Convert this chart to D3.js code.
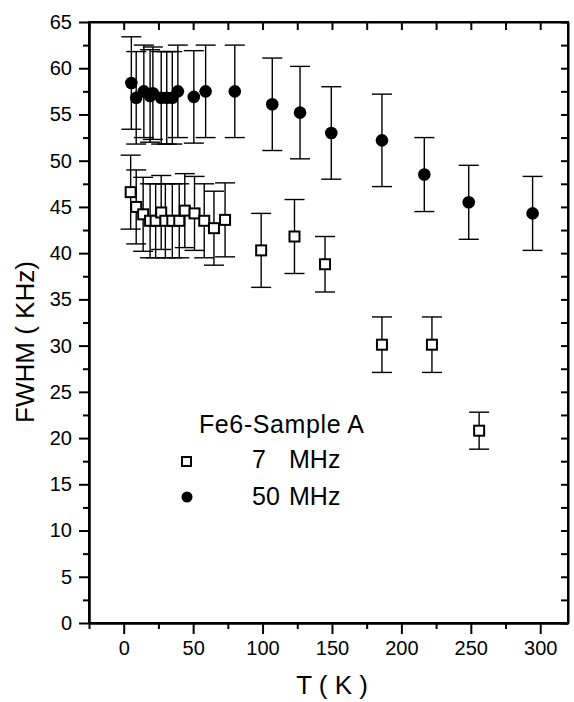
<!DOCTYPE html>
<html>
<head>
<meta charset="utf-8">
<script src="https://cdn.jsdelivr.net/npm/d3@7"></script>
<style>
  body { margin: 0; background: #fff; }
  svg { font-family: "Liberation Sans", Arial, Helvetica, sans-serif; }
  .axis path, .axis line { stroke: #000; stroke-width: 2; }
  .axis text { font-size: 20px; fill: #000; }
</style>
</head>
<body>
<div id="chart"></div>
<script>
// 7 MHz series (open squares)
var tSquare    = [5, 9, 14, 19, 23, 27, 30, 35, 40, 44, 51, 58, 65, 73, 99, 123, 145, 186, 222, 256];
var fwhmSquare = [46.6, 45.0, 44.2, 43.5, 43.5, 44.4, 43.5, 43.5, 43.5, 44.6, 44.3, 43.5, 42.7, 43.6, 40.3, 41.8, 38.8, 30.1, 30.1, 20.8];
var errSquare  = [4, 4, 4, 4, 4, 4, 4, 4, 4, 4, 4, 4, 4, 4, 4, 4, 3, 3, 3, 2];

// 50 MHz series (filled circles)
var tCircle    = [5.5, 9, 14.5, 19, 21, 27, 31, 35, 39, 50.5, 59, 80, 107, 127, 149.5, 186, 216.5, 248.5, 294.5];
var fwhmCircle = [58.4, 56.8, 57.5, 57.0, 57.3, 56.8, 56.8, 56.8, 57.5, 56.9, 57.5, 57.5, 56.1, 55.2, 53.0, 52.2, 48.5, 45.5, 44.3];
var errCircle  = [5, 5, 5, 5, 5, 5, 5, 5, 5, 5, 5, 5, 5, 5, 5, 5, 4, 4, 4];

// ticks
var xMajor = [0, 50, 100, 150, 200, 250, 300];
var xMinor = [-25, 25, 75, 125, 175, 225, 275];
var yMajor = [0, 5, 10, 15, 20, 25, 30, 35, 40, 45, 50, 55, 60, 65];
var yMinor = [2.5, 7.5, 12.5, 17.5, 22.5, 27.5, 32.5, 37.5, 42.5, 47.5, 52.5, 57.5, 62.5];

var legendTitle = "Fe6-Sample A";
var legendNums = ["7", "50"];

var width = 574, height = 702;
var margin = {top: 22, right: 6, bottom: 79, left: 89};

var svg = d3.select("#chart").append("svg")
    .attr("width", width)
    .attr("height", height);

svg.append("rect").attr("width", width).attr("height", height).attr("fill", "#fff");

var x = d3.scaleLinear().domain([-25, 320]).range([margin.left, width - margin.right]);
var y = d3.scaleLinear().domain([0, 65]).range([height - margin.bottom, margin.top]);

var x0 = margin.left, x1 = width - margin.right;
var y0 = height - margin.bottom, y1 = margin.top;

// bottom axis, ticks outward
svg.append("g").attr("class", "axis")
    .attr("transform", "translate(0," + y0 + ")")
    .call(d3.axisBottom(x).tickValues(xMajor).tickSize(11).tickPadding(7).tickSizeOuter(0));
svg.append("g").attr("class", "axis")
    .attr("transform", "translate(0," + y0 + ")")
    .call(d3.axisBottom(x).tickValues(xMinor).tickSize(6).tickFormat("").tickSizeOuter(0));

// top axis, ticks inward
svg.append("g").attr("class", "axis")
    .attr("transform", "translate(0," + y1 + ")")
    .call(d3.axisTop(x).tickValues(xMajor.concat(xMinor)).tickSize(-8).tickFormat("").tickSizeOuter(0));

// left axis, ticks outward
svg.append("g").attr("class", "axis")
    .attr("transform", "translate(" + x0 + ",0)")
    .call(d3.axisLeft(y).tickValues(yMajor).tickSize(10).tickPadding(7).tickSizeOuter(0));
svg.append("g").attr("class", "axis")
    .attr("transform", "translate(" + x0 + ",0)")
    .call(d3.axisLeft(y).tickValues(yMinor).tickSize(6).tickFormat("").tickSizeOuter(0));

// right axis, ticks inward
svg.append("g").attr("class", "axis")
    .attr("transform", "translate(" + x1 + ",0)")
    .call(d3.axisRight(y).tickValues(yMajor.concat(yMinor)).tickSize(-7).tickFormat("").tickSizeOuter(0));

// frame
svg.append("rect")
    .attr("x", x0).attr("y", y1)
    .attr("width", x1 - x0).attr("height", y0 - y1)
    .attr("fill", "none").attr("stroke", "#000").attr("stroke-width", 2);

// error bars
function errorBars(ts, vs, es) {
    var g = svg.append("g").attr("stroke", "#000").attr("stroke-width", 1.4);
    ts.forEach(function(t, i) {
        var cx = x(t), top = y(vs[i] + es[i]), bot = y(vs[i] - es[i]);
        g.append("line").attr("x1", cx).attr("x2", cx).attr("y1", top).attr("y2", bot);
        g.append("line").attr("x1", cx - 10).attr("x2", cx + 10).attr("y1", top).attr("y2", top);
        g.append("line").attr("x1", cx - 10).attr("x2", cx + 10).attr("y1", bot).attr("y2", bot);
    });
}
errorBars(tCircle, fwhmCircle, errCircle);
errorBars(tSquare, fwhmSquare, errSquare);

// circles
svg.append("g").selectAll("circle")
    .data(tCircle)
    .enter().append("circle")
    .attr("cx", function(d) { return x(d); })
    .attr("cy", function(d, i) { return y(fwhmCircle[i]); })
    .attr("r", 6.3)
    .attr("fill", "#000");

// squares
svg.append("g").selectAll("rect")
    .data(tSquare)
    .enter().append("rect")
    .attr("x", function(d) { return x(d) - 5; })
    .attr("y", function(d, i) { return y(fwhmSquare[i]) - 5; })
    .attr("width", 10).attr("height", 10)
    .attr("fill", "#fff").attr("stroke", "#000").attr("stroke-width", 2);

// axis titles
svg.append("text")
    .attr("x", 332).attr("y", 694)
    .attr("text-anchor", "middle")
    .style("font-size", "26px")
    .text("T ( K )");

svg.append("text")
    .attr("transform", "translate(34,342) rotate(-90)")
    .attr("text-anchor", "middle")
    .style("font-size", "26px")
    .text("FWHM ( KHz)");

// legend
var lg = svg.append("g");
lg.append("text").attr("x", 199).attr("y", 433)
    .style("font-size", "25px").style("letter-spacing", "0.6px")
    .text(legendTitle);
lg.append("rect").attr("x", 182).attr("y", 457).attr("width", 9).attr("height", 9)
    .attr("fill", "#fff").attr("stroke", "#000").attr("stroke-width", 2);
lg.append("circle").attr("cx", 187).attr("cy", 497).attr("r", 5.5).attr("fill", "#000");
legendNums.forEach(function(n, i) {
    var by = 468 + i * 37;
    lg.append("text").attr("x", 252).attr("y", by).style("font-size", "25px").text(n);
    lg.append("text").attr("x", 289).attr("y", by).style("font-size", "25px").text("MHz");
});
</script>
</body>
</html>
